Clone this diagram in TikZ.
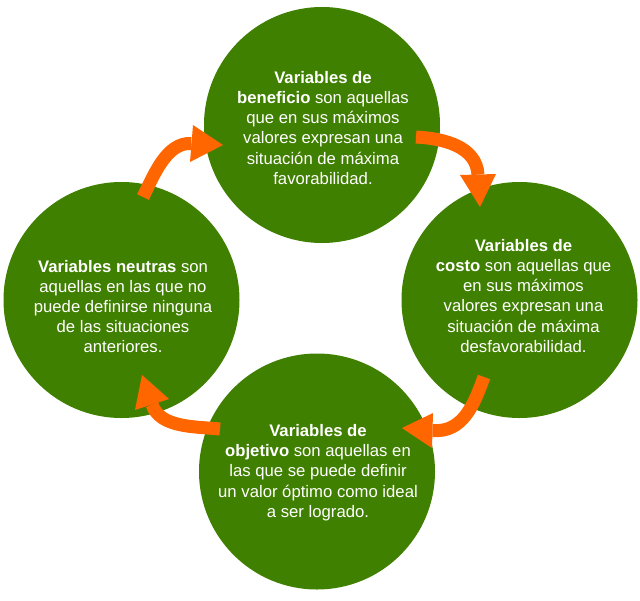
\documentclass[tikz,border=0pt]{standalone}
\usepackage{fontspec}
\setmainfont{Liberation Sans}
\definecolor{leafgreen}{RGB}{64,128,0}
\definecolor{arroworange}{RGB}{255,102,0}
\begin{document}
\begin{tikzpicture}[x=1pt,y=-1pt,
  blob/.style={circle,fill=leafgreen,draw=none,minimum size=236pt,inner sep=0pt},
  blurb/.style={text=white,align=center,inner sep=0pt,font=\fontsize{16.7}{20.2}\selectfont},
  shaft/.style={draw=arroworange,line width=13pt},
  tiphead/.style={fill=arroworange,draw=none}]
\useasboundingbox (0,0) rectangle (640,600);
% circles
\node[blob] (ctop) at (322,125) {};
\node[blob] (cright) at (519.5,300) {};
\node[blob] (cbottom) at (317,471.5) {};
\node[blob] (cleft) at (121.5,300) {};
% texts
\node[blurb] (ttop) at (323,127.9) {\textbf{Variables de}\\ \textbf{beneficio} son aquellas\\ que en sus máximos\\ valores expresan una\\ situación de máxima\\ favorabilidad.};
\node[blurb] (tright) at (523.5,295.9) {\textbf{Variables de}\\ \textbf{costo} son aquellas que\\ en sus máximos\\ valores expresan una\\ situación de máxima\\ desfavorabilidad.};
\node[blurb] (tbottom) at (318,472.5) {\textbf{Variables de}\\ \textbf{objetivo} son aquellas en\\ las que se puede definir\\ un valor óptimo como ideal\\ a ser logrado.};
\node[blurb] (tleft) at (123,306.5) {\textbf{Variables neutras} son\\ aquellas en las que no\\ puede definirse ninguna\\ de las situaciones\\ anteriores.};
% arrow coordinates
\coordinate (a1s) at (143,197);
\coordinate (a1b) at (191.5,143.5);
\coordinate (a1t) at (223,145);
\coordinate (a1l) at (193,125);
\coordinate (a1r) at (190,162);
\coordinate (a2s) at (416,137);
\coordinate (a2b) at (478,174.5);
\coordinate (a2t) at (480,207);
\coordinate (a2l) at (460,175);
\coordinate (a2r) at (496,174);
\coordinate (a3s) at (484,377);
\coordinate (a3b) at (432.5,430.5);
\coordinate (a3t) at (402,428);
\coordinate (a3l) at (433,413);
\coordinate (a3r) at (432,448);
\coordinate (a4s) at (220,429);
\coordinate (a4b) at (152,404.5);
\coordinate (a4t) at (142,375);
\coordinate (a4l) at (135,410);
\coordinate (a4r) at (169,399);
% arrows
\draw[shaft] (a1s) .. controls (154,175) and (166.5,142) .. (a1b);
\fill[tiphead] (a1t) -- (a1l) -- (a1r) -- cycle;
\draw[shaft] (a2s) .. controls (444,138.5) and (476.3,146.5) .. (a2b);
\fill[tiphead] (a2t) -- (a2l) -- (a2r) -- cycle;
\draw[shaft] (a3s) .. controls (474,405) and (462.5,433) .. (a3b);
\fill[tiphead] (a3t) -- (a3l) -- (a3r) -- cycle;
\draw[shaft] (a4s) .. controls (195,426.5) and (160,428) .. (a4b);
\fill[tiphead] (a4t) -- (a4l) -- (a4r) -- cycle;
\end{tikzpicture}
\end{document}
